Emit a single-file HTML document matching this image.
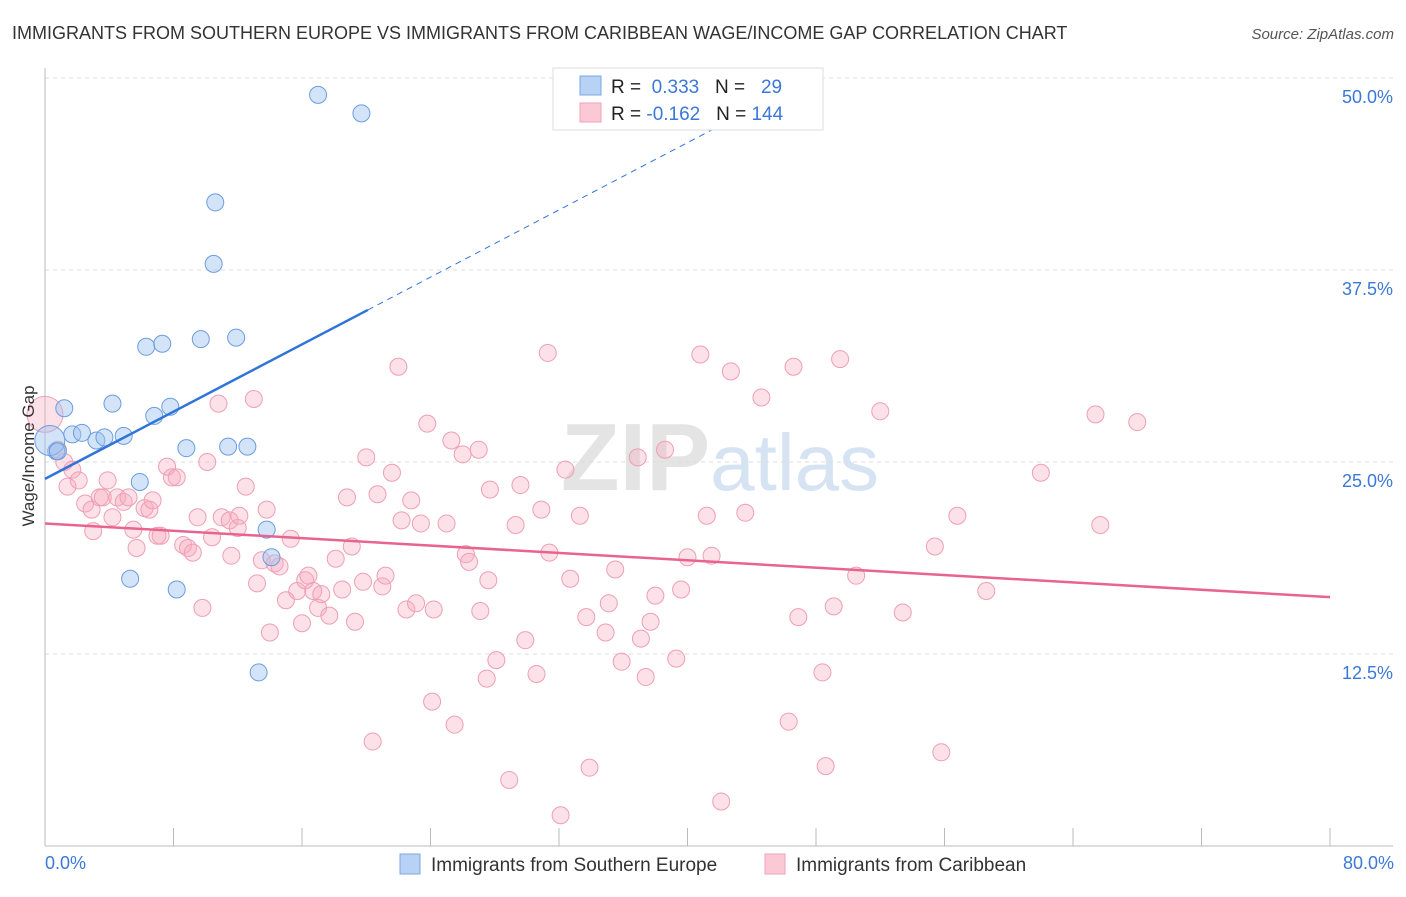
<!DOCTYPE html>
<html><head><meta charset="utf-8"><style>
body{margin:0;background:#fff;font-family:"Liberation Sans",sans-serif}
svg text{font-family:"Liberation Sans",sans-serif}
</style></head><body>
<svg id="chart" width="1406" height="892" xmlns="http://www.w3.org/2000/svg">
<text x="12" y="39" font-size="18" fill="#333">IMMIGRANTS FROM SOUTHERN EUROPE VS IMMIGRANTS FROM CARIBBEAN WAGE/INCOME GAP CORRELATION CHART</text>
<text x="1394" y="39" font-size="15" fill="#555" text-anchor="end" font-style="italic">Source: ZipAtlas.com</text>
<text x="720" y="490" font-size="96" fill="#e4e4e4" text-anchor="middle" font-family="Liberation Serif" font-weight="bold">ZIP<tspan fill="#d6e3f3" font-family="Liberation Sans" font-weight="normal" font-size="80">atlas</tspan></text>
<g id="grid"></g><g id="axes"></g><g id="pts"></g><g id="lines"></g>
<text transform="translate(34,456) rotate(-90)" font-size="17" fill="#333" text-anchor="middle">Wage/Income Gap</text>
<text x="45" y="869" font-size="18" fill="#3b78d8">0.0%</text>
<text x="1394" y="869" font-size="18" fill="#3b78d8" text-anchor="end">80.0%</text>
<g>
<rect x="553" y="68" width="270" height="62" fill="#fff" stroke="#ddd"/>
<rect x="580" y="76" width="21" height="19" fill="#b7d2f4" stroke="#7aa8e6"/>
<rect x="580" y="103" width="21" height="19" fill="#fbc8d6" stroke="#f0a0b8"/>
<text x="611" y="93" font-size="19" fill="#222">R = <tspan fill="#3b78d8">&#160;0.333</tspan>&#160;&#160;&#160;N = <tspan fill="#3b78d8">&#160;&#160;29</tspan></text>
<text x="611" y="120" font-size="19" fill="#222">R = <tspan fill="#3b78d8">-0.162</tspan>&#160;&#160;&#160;N = <tspan fill="#3b78d8">144</tspan></text>
</g>
<g>
<rect x="400" y="854" width="20" height="20" fill="#b7d2f4" stroke="#7aa8e6"/>
<text x="431" y="871" font-size="19" fill="#333">Immigrants from Southern Europe</text>
<rect x="765" y="854" width="20" height="20" fill="#fbc8d6" stroke="#f0a0b8"/>
<text x="796" y="871" font-size="19" fill="#333">Immigrants from Caribbean</text>
</g>
</svg>
<script>
const yTicks=[12.5,25,37.5,50];
const yTickLabels=["12.5%","25.0%","37.5%","50.0%"];
const xTicks=[0,8,16,24,32,40,48,56,64,72,80];
const blueX=[17.0,19.7,10.6,10.5,6.3,7.3,9.7,11.9,1.2,4.2,7.8,6.8,1.7,2.3,3.2,3.7,4.9,8.8,11.4,12.6,0.7,5.9,13.8,14.1,5.3,8.2,13.3,0.3,0.8];
const blueY=[48.9,47.7,41.9,37.9,32.5,32.7,33.0,33.1,28.5,28.8,28.6,28.0,26.8,26.9,26.4,26.6,26.7,25.9,26.0,26.0,25.7,23.7,20.6,18.8,17.4,16.7,11.3,26.4,25.7];
const pinkX=[0.0,0.8,1.2,1.7,1.4,2.1,2.5,2.9,3.0,3.4,3.9,3.6,4.2,4.5,4.9,5.2,5.5,5.7,6.2,6.5,6.7,7.0,7.2,7.6,7.9,8.2,8.6,8.9,9.2,9.5,9.8,10.1,10.4,10.8,11.0,11.5,11.6,12.0,12.1,12.5,13.0,13.2,13.5,13.8,14.0,14.3,14.6,15.0,15.3,15.7,16.0,16.2,16.4,16.7,17.0,17.2,17.7,18.1,18.5,18.8,19.1,19.3,19.8,20.0,20.4,20.7,21.0,21.2,21.6,22.0,22.2,22.5,22.8,23.1,23.4,23.8,24.1,24.2,25.0,25.3,25.5,26.0,26.2,26.4,27.0,27.1,27.6,27.7,28.1,27.5,28.9,29.3,29.6,29.9,30.6,30.9,31.3,31.4,32.1,32.4,32.7,33.3,33.7,33.9,34.9,35.1,35.5,35.9,36.9,37.1,37.4,37.7,38.0,38.6,39.3,39.6,40.0,40.8,41.2,41.5,42.1,42.7,43.6,44.6,46.3,46.6,46.9,48.4,48.6,49.1,49.5,50.5,52.0,53.4,55.4,55.8,56.8,58.6,62.0,65.4,65.7,68.0];
const pinkY=[28.1,25.8,25.0,24.5,23.4,23.8,22.3,21.9,20.5,22.7,23.8,22.7,21.4,22.7,22.4,22.7,20.6,19.4,22.0,21.9,22.5,20.2,20.2,24.7,24.0,24.0,19.6,19.4,19.1,21.4,15.5,25.0,20.1,28.8,21.4,21.2,18.9,20.7,21.5,23.4,29.1,17.1,18.6,21.9,13.9,18.4,18.2,16.0,20.0,16.6,14.5,17.3,17.6,16.6,15.5,16.4,15.0,18.7,16.7,22.7,19.5,14.6,17.2,25.3,6.8,22.9,16.9,17.6,24.3,31.2,21.2,15.4,22.5,15.8,21.0,27.5,9.4,15.4,21.0,26.4,7.9,25.5,19.0,18.5,25.8,15.3,17.3,23.2,12.1,10.9,4.3,20.9,23.5,13.4,11.2,21.9,32.1,19.1,2.0,24.5,17.4,21.5,14.9,5.1,13.9,15.8,18.0,12.0,25.3,13.5,11.0,14.6,16.3,25.8,12.2,16.7,18.8,32.0,21.5,18.9,2.9,30.9,21.7,29.2,8.1,31.2,14.9,11.3,5.2,15.6,31.7,17.6,28.3,15.2,19.5,6.1,21.5,16.6,24.3,28.1,20.9,27.6];
const blueTrend=[0,23.9,20.1,34.9,44.5];
const pinkTrend=[0,21.0,80,16.2];
const NS="http://www.w3.org/2000/svg";
const xs=v=>45+v/80*1285;
const ys=v=>462-(v-25)*15.36;
function mk(tag,attrs,parent){const e=document.createElementNS(NS,tag);for(const k in attrs)e.setAttribute(k,attrs[k]);parent.appendChild(e);return e;}
const grid=document.getElementById('grid'),axes=document.getElementById('axes'),pts=document.getElementById('pts'),lines=document.getElementById('lines');
yTicks.forEach((t,i)=>{
 const l=mk('line',{x1:45,x2:1393,y1:ys(t),y2:ys(t),stroke:'#ddd','stroke-dasharray':'4,4'},grid);
 
 
 const tx=mk('text',{x:1393,y:ys(t)+25,'font-size':18,fill:'#3b78d8','text-anchor':'end'},grid);
 tx.textContent=yTickLabels[i];
 
 
});
const ya=mk('line',{x1:45,x2:45,y1:68,y2:846,stroke:'#bbb'},axes);


const xa=mk('line',{x1:45,x2:1393,y1:846,y2:846,stroke:'#bbb'},axes);


xTicks.forEach(t=>{
 const l=mk('line',{x1:xs(t),x2:xs(t),y1:828,y2:846,stroke:'#bbb'},axes);
 
 
});
pinkX.forEach((x,i)=>{
 const c=mk('circle',{cx:xs(x),cy:ys(pinkY[i]),r:i===0?18:8.5,fill:'rgba(246,168,190,0.35)',stroke:'#ee9fb5','stroke-width':1},pts);
 
 
});
blueX.forEach((x,i)=>{
 const c=mk('circle',{cx:xs(x),cy:ys(blueY[i]),r:i===27?15:8.5,fill:'rgba(160,196,240,0.45)',stroke:'#6b9de0','stroke-width':1},pts);
 
 
});
const bs=(blueTrend[3]-blueTrend[1])/(blueTrend[2]-blueTrend[0]);
const bl=mk('line',{x1:xs(blueTrend[0]),y1:ys(blueTrend[1]),x2:xs(blueTrend[2]),y2:ys(blueTrend[3]),stroke:'#2f74d8','stroke-width':2.5},lines);


const bd=mk('line',{x1:xs(blueTrend[2]),y1:ys(blueTrend[3]),x2:xs(blueTrend[4]),y2:ys(blueTrend[1]+bs*blueTrend[4]),stroke:'#2f74d8','stroke-width':1,'stroke-dasharray':'6,5'},lines);


const pl=mk('line',{x1:xs(pinkTrend[0]),y1:ys(pinkTrend[1]),x2:xs(pinkTrend[2]),y2:ys(pinkTrend[3]),stroke:'#e8648f','stroke-width':2.5},lines);


</script>
</body></html>
